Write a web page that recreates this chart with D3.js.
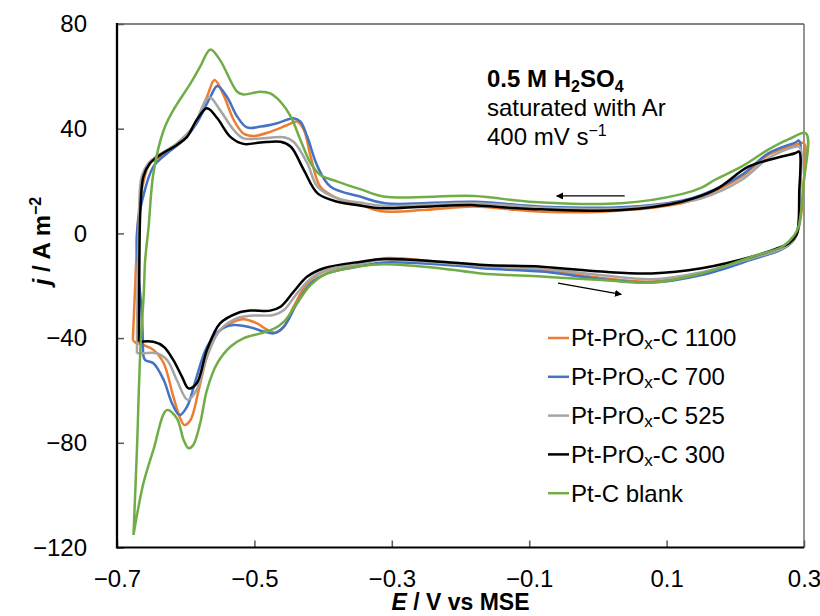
<!DOCTYPE html>
<html>
<head>
<meta charset="utf-8">
<script src="https://cdn.jsdelivr.net/npm/d3@7/dist/d3.min.js"></script>
<style>
  body { margin: 0; background: #fff; }
  text { font-family: Arial, "Liberation Sans", sans-serif; fill: #000; }
</style>
</head>
<body>
<svg id="chart" width="820" height="616"></svg>
<script>
// potential E / V vs MSE, current density j / A m^-2
// each loop: forward sweep (lower branch) left -> right, then back along upper branch
var cv1100 = [
  [-0.677,-40.7],[-0.673,-41.7],[-0.662,-42.6],[-0.647,-44.5],[-0.632,-49.6],[-0.618,-62.4],[-0.608,-70.6],[-0.602,-73.2],
  [-0.593,-71.3],[-0.581,-59.8],[-0.569,-47.1],[-0.554,-38.2],[-0.535,-34.4],[-0.516,-32.8],[-0.496,-34.4],[-0.481,-36.9],
  [-0.469,-37.9],[-0.457,-35.6],[-0.443,-28.0],[-0.423,-19.1],[-0.399,-14.6],[-0.345,-11.7],[-0.311,-9.5],[-0.228,-11.0],
  [-0.165,-12.5],[-0.082,-14.0],[0.005,-17.0],[0.078,-18.4],[0.151,-15.3],[0.224,-9.5],[0.268,-6.0],[0.285,-2.5],
  [0.294,4.0],[0.299,18.0],[0.300,34.4],
  [0.287,33.8],[0.248,30.0],[0.209,21.7],[0.151,14.0],[0.122,11.5],[0.005,8.3],[-0.080,8.3],[-0.120,9.0],[-0.180,10.3],
  [-0.250,9.0],[-0.316,8.5],[-0.345,10.8],[-0.379,13.4],[-0.404,17.8],[-0.418,29.3],[-0.428,39.5],[-0.438,42.7],
  [-0.452,41.4],[-0.477,38.8],[-0.501,37.2],[-0.516,38.2],[-0.530,43.3],[-0.545,52.9],[-0.558,58.6],[-0.569,52.2],
  [-0.589,40.8],[-0.608,35.0],[-0.632,30.0],[-0.652,26.8],[-0.662,19.1],[-0.669,6.4],[-0.672,-10.2],[-0.674,-22.9],
  [-0.677,-40.7]
];
var cv700 = [
  [-0.662,-46.0],[-0.659,-48.4],[-0.647,-49.6],[-0.632,-56.0],[-0.620,-64.9],[-0.609,-69.4],[-0.598,-66.2],[-0.584,-54.7],
  [-0.569,-43.3],[-0.550,-36.9],[-0.530,-35.0],[-0.506,-35.9],[-0.486,-37.5],[-0.472,-38.2],[-0.457,-35.6],[-0.438,-26.7],
  [-0.418,-19.1],[-0.394,-15.3],[-0.345,-12.5],[-0.311,-11.1],[-0.200,-12.5],[-0.165,-13.4],[-0.082,-14.6],[0.005,-17.5],
  [0.078,-18.8],[0.151,-15.9],[0.224,-10.0],[0.268,-6.0],[0.285,-2.5],[0.292,2.0],[0.294,15.0],[0.293,35.4],
  [0.287,34.7],[0.248,30.6],[0.209,22.3],[0.151,14.7],[0.122,12.5],[0.034,10.0],[-0.080,10.2],[-0.180,12.1],[-0.310,11.5],
  [-0.345,14.0],[-0.389,17.8],[-0.408,25.5],[-0.423,36.9],[-0.433,42.7],[-0.443,44.0],[-0.467,42.1],[-0.491,40.8],
  [-0.511,40.5],[-0.525,44.6],[-0.540,52.2],[-0.554,56.3],[-0.564,52.2],[-0.584,42.1],[-0.603,35.7],[-0.627,30.6],
  [-0.647,25.5],[-0.662,14.0],[-0.671,0.0],[-0.669,-15.0],[-0.664,-30.0],[-0.662,-46.0]
];
var cv525 = [
  [-0.671,-45.8],[-0.662,-45.8],[-0.642,-45.8],[-0.627,-48.4],[-0.613,-56.0],[-0.597,-63.6],[-0.584,-59.8],[-0.569,-47.1],
  [-0.550,-36.9],[-0.525,-32.4],[-0.501,-31.4],[-0.472,-31.2],[-0.457,-29.3],[-0.438,-22.9],[-0.418,-17.2],[-0.394,-14.0],
  [-0.345,-11.5],[-0.311,-10.0],[-0.228,-11.2],[-0.165,-12.5],[-0.082,-13.5],[0.005,-16.0],[0.078,-17.5],[0.151,-14.8],
  [0.224,-9.5],[0.268,-5.8],[0.285,-2.5],[0.292,3.0],[0.294,15.0],[0.294,33.0],
  [0.287,33.1],[0.248,28.7],[0.209,20.4],[0.151,13.4],[0.122,12.0],[0.034,9.5],[-0.080,9.8],[-0.180,11.5],[-0.310,10.5],
  [-0.345,11.7],[-0.379,13.4],[-0.408,17.8],[-0.423,26.8],[-0.443,35.0],[-0.457,36.7],[-0.491,36.3],[-0.516,36.3],
  [-0.530,39.5],[-0.550,47.1],[-0.566,52.0],[-0.589,40.8],[-0.613,34.4],[-0.652,27.4],[-0.664,21.7],[-0.668,5.0],
  [-0.670,-20.0],[-0.671,-45.8]
];
var cv300 = [
  [-0.668,-41.4],[-0.647,-41.4],[-0.632,-43.3],[-0.618,-48.4],[-0.6055,-54.7],[-0.596,-59.2],[-0.584,-57.3],[-0.569,-44.5],
  [-0.550,-34.4],[-0.525,-30.5],[-0.506,-29.5],[-0.477,-29.5],[-0.462,-28.0],[-0.443,-22.3],[-0.423,-16.5],[-0.399,-13.3],
  [-0.345,-10.8],[-0.311,-9.8],[-0.228,-10.8],[-0.165,-12.1],[-0.082,-12.7],[0.005,-14.6],[0.078,-15.3],[0.151,-13.3],
  [0.224,-8.9],[0.258,-6.0],[0.278,-3.8],[0.289,-0.5],[0.292,3.9],[0.293,15.0],[0.293,31.2],
  [0.287,30.6],[0.258,28.7],[0.219,25.5],[0.1705,16.6],[0.122,12.1],[0.034,8.9],[-0.0825,9.2],[-0.141,10.0],[-0.180,10.8],
  [-0.253,10.2],[-0.316,9.6],[-0.345,10.6],[-0.379,12.1],[-0.408,15.3],[-0.428,24.2],[-0.447,33.1],[-0.462,35.0],
  [-0.491,34.7],[-0.516,34.2],[-0.535,36.9],[-0.554,44.0],[-0.569,47.8],[-0.584,43.3],[-0.598,36.9],[-0.613,33.8],
  [-0.637,30.0],[-0.652,26.8],[-0.6616,21.7],[-0.666,8.9],[-0.6674,-10.2],[-0.668,-41.4]
];
var cvBlank = [
  [-0.676,-115.2],[-0.6616,-95.5],[-0.647,-82.7],[-0.6275,-67.5],[-0.613,-70.6],[-0.603,-78.9],[-0.596,-82.1],[-0.589,-80.8],
  [-0.579,-72.6],[-0.569,-59.8],[-0.554,-49.6],[-0.535,-43.3],[-0.516,-40.1],[-0.491,-38.2],[-0.472,-36.5],[-0.457,-33.7],
  [-0.438,-26.7],[-0.418,-19.7],[-0.394,-15.3],[-0.345,-12.5],[-0.311,-11.8],[-0.228,-13.4],[-0.170,-15.3],[-0.082,-16.5],
  [0.005,-17.8],[0.078,-18.8],[0.151,-15.3],[0.224,-8.9],[0.268,-5.1],[0.285,-1.0],[0.292,2.6],[0.2995,19.1],[0.303,38.2],
  [0.278,36.0],[0.248,32.0],[0.209,25.5],[0.1705,20.5],[0.151,17.5],[0.122,15.0],[0.034,11.5],[-0.100,12.1],[-0.180,14.3],
  [-0.310,14.0],[-0.345,16.8],[-0.379,19.8],[-0.404,22.3],[-0.418,26.8],[-0.433,35.7],[-0.447,44.6],[-0.462,50.3],
  [-0.477,53.5],[-0.491,54.1],[-0.516,53.1],[-0.525,54.1],[-0.550,66.2],[-0.564,70.3],[-0.579,63.7],[-0.593,57.3],
  [-0.618,47.1],[-0.632,39.5],[-0.647,23.0],[-0.654,2.5],[-0.659,-10.2],[-0.661,-22.9],[-0.666,-44.5],[-0.671,-82.7],
  [-0.676,-115.2]
];

var seriesLabels = ["1100", "700", "525", "300", "blank"];
var seriesColors = ["#ED7D31", "#4472C4", "#A5A5A5", "#000000", "#70AD47"];
var xTicks = [-0.7, -0.5, -0.3, -0.1, 0.1, 0.3];
var yTicks = [-120, -80, -40, 0, 40, 80];
// sweep direction arrows, [E, j] start -> end
var sweepArrows = [
  [[0.039, 14.3], [-0.060, 14.3]],
  [[-0.058, -19.0], [0.034, -23.3]]
];

var allSeries = [cv1100, cv700, cv525, cv300, cvBlank];

var svg = d3.select("#chart");
var plotL = 117, plotR = 804, plotT = 24, plotB = 547.5;

var x = d3.scaleLinear().domain([-0.7, 0.3]).range([plotL, plotR]);
var y = d3.scaleLinear().domain([-120, 80]).range([plotB, plotT]);

// frame
svg.append("line").attr("x1", plotL).attr("x2", plotR).attr("y1", plotT).attr("y2", plotT)
  .attr("stroke", "#595959").attr("stroke-width", 1.3);
svg.append("line").attr("x1", plotR).attr("x2", plotR).attr("y1", plotT).attr("y2", plotB)
  .attr("stroke", "#595959").attr("stroke-width", 1.3);

var yAxis = svg.append("g")
  .attr("transform", "translate(" + plotL + ",0)")
  .call(d3.axisLeft(y).tickValues(yTicks).tickSizeInner(-7).tickSizeOuter(0)
    .tickPadding(30).tickFormat(d3.format("d")));
var xAxis = svg.append("g")
  .attr("transform", "translate(0," + plotB + ")")
  .call(d3.axisBottom(x).tickValues(xTicks).tickSizeInner(-7).tickSizeOuter(0)
    .tickPadding(22).tickFormat(d3.format(".1f")));

[xAxis, yAxis].forEach(function(g) {
  g.select(".domain").remove();
  g.selectAll(".tick line").attr("stroke", "#595959").attr("stroke-width", 1.5);
  g.selectAll(".tick text").style("font-size", "24px").style("font-family", "Arial, 'Liberation Sans', sans-serif");
});

svg.append("line").attr("x1", plotL).attr("x2", plotL).attr("y1", plotT - 1).attr("y2", plotB + 1)
  .attr("stroke", "#000").attr("stroke-width", 2.3);
svg.append("line").attr("x1", plotL).attr("x2", plotR).attr("y1", plotB).attr("y2", plotB)
  .attr("stroke", "#000").attr("stroke-width", 2);

// curves
var line = d3.line()
  .x(function(d) { return x(d[0]); })
  .y(function(d) { return y(d[1]); })
  .curve(d3.curveCatmullRom.alpha(0.5));

svg.append("g").selectAll("path")
  .data(allSeries)
  .enter().append("path")
  .attr("d", line)
  .attr("fill", "none")
  .attr("stroke", function(d, i) { return seriesColors[i]; })
  .attr("stroke-width", 2.5)
  .attr("stroke-linejoin", "round");

// sweep arrows
svg.append("defs").append("marker")
  .attr("id", "head")
  .attr("viewBox", "0 0 10 10")
  .attr("refX", 9).attr("refY", 5)
  .attr("markerWidth", 7).attr("markerHeight", 7)
  .attr("markerUnits", "userSpaceOnUse")
  .attr("orient", "auto")
  .append("path").attr("d", "M0,0 L10,5 L0,10 Z").attr("fill", "#000");

svg.selectAll(".sweep")
  .data(sweepArrows)
  .enter().append("line")
  .attr("class", "sweep")
  .attr("x1", function(d) { return x(d[0][0]); })
  .attr("y1", function(d) { return y(d[0][1]); })
  .attr("x2", function(d) { return x(d[1][0]); })
  .attr("y2", function(d) { return y(d[1][1]); })
  .attr("stroke", "#000").attr("stroke-width", 1.3)
  .attr("marker-end", "url(#head)");

// conditions note
var note = svg.append("g").style("font-size", "24px");
var t1 = note.append("text").attr("x", 487).attr("y", 87).style("font-weight", "bold");
t1.append("tspan").text("0.5 M H");
t1.append("tspan").attr("dy", 5).style("font-size", "16px").text("2");
t1.append("tspan").attr("dy", -5).text("SO");
t1.append("tspan").attr("dy", 5).style("font-size", "16px").text("4");
note.append("text").attr("x", 487).attr("y", 116).text("saturated with Ar");
var t3 = note.append("text").attr("x", 487).attr("y", 145);
t3.append("tspan").text("400 mV s");
t3.append("tspan").attr("dy", -9).style("font-size", "16px").text("\u22121");

// legend
var legend = svg.append("g").attr("transform", "translate(548,338)");
var item = legend.selectAll("g")
  .data(seriesLabels)
  .enter().append("g")
  .attr("transform", function(d, i) { return "translate(0," + (i * 38.8) + ")"; });
item.append("line")
  .attr("x1", 0).attr("x2", 21)
  .attr("stroke", function(d, i) { return seriesColors[i]; })
  .attr("stroke-width", 2.5);
item.append("text")
  .attr("x", 23).attr("dy", "0.35em")
  .style("font-size", "24px")
  .each(function(d) {
    var t = d3.select(this);
    if (d === "blank") {
      t.append("tspan").text("Pt-C blank");
    } else {
      t.append("tspan").text("Pt-PrO");
      t.append("tspan").attr("dy", 3).style("font-size", "17px").text("x");
      t.append("tspan").attr("dy", -3).text("-C " + d);
    }
  });

// axis titles
var xt = svg.append("text")
  .attr("x", (plotL + plotR) / 2).attr("y", 610)
  .attr("text-anchor", "middle")
  .style("font-size", "23px").style("font-weight", "bold");
xt.append("tspan").style("font-style", "italic").text("E");
xt.append("tspan").text(" / V vs MSE");

var yt = svg.append("text")
  .attr("transform", "translate(50,241) rotate(-90)")
  .attr("text-anchor", "middle")
  .style("font-size", "24px").style("font-weight", "bold");
yt.append("tspan").style("font-style", "italic").text("j");
yt.append("tspan").text(" / A m");
yt.append("tspan").attr("dy", -9).style("font-size", "16px").text("\u22122");
</script>
</body>
</html>
